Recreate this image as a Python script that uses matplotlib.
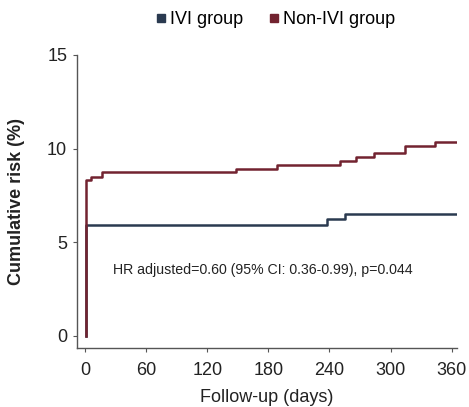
import matplotlib
matplotlib.use("Agg")
import matplotlib.pyplot as plt
from matplotlib.lines import Line2D

plt.rcParams['font.family'] = ['Liberation Sans', 'DejaVu Sans']

# Step data (days, cumulative risk %)
ivi_days = [1, 1, 238, 255, 365]
ivi_risk = [0.0, 5.9, 6.24, 6.5, 6.5]
nonivi_days = [1, 1, 6, 17, 148, 188, 250, 266, 284, 314, 344, 365]
nonivi_risk = [0.0, 8.3, 8.48, 8.75, 8.92, 9.12, 9.34, 9.53, 9.77, 10.14, 10.36, 10.36]

groups = ["IVI group", "Non-IVI group"]
colors = ["#2a3a50", "#722330"]
x_ticks = [0, 60, 120, 180, 240, 300, 360]
y_ticks = [0, 5, 10, 15]
annotation = "HR adjusted=0.60 (95% CI: 0.36-0.99), p=0.044"

fig = plt.figure(figsize=(4.69, 4.07), dpi=100)
ax = fig.add_axes([0.164, 0.145, 0.810, 0.720])

ax.step(ivi_days, ivi_risk, where="post", color=colors[0], lw=1.8)
ax.step(nonivi_days, nonivi_risk, where="post", color=colors[1], lw=1.8)

ax.set_xlim(-8, 365)
ax.set_ylim(-0.65, 15)
ax.set_xticks(x_ticks)
ax.set_yticks(y_ticks)
for s in ["top", "right"]:
    ax.spines[s].set_visible(False)
for s in ["left", "bottom"]:
    ax.spines[s].set_color("#555555")
    ax.spines[s].set_linewidth(1.0)
ax.spines["left"].set_bounds(-0.65, 15)
ax.tick_params(axis="both", colors="#555555", length=3, width=0.8, labelsize=13,
               labelcolor="#222222")
ax.tick_params(axis="x", pad=7)
ax.tick_params(axis="y", pad=4)

ax.set_xlabel("Follow-up (days)", fontsize=13, color="#222222", labelpad=7)
ax.set_ylabel("Cumulative risk (%)", fontsize=13, fontweight="bold", color="#222222", labelpad=16)

ax.text(27, 3.5, annotation, fontsize=10.2, color="#222222", va="center", ha="left")

handles = [Line2D([], [], marker="s", linestyle="none", color=c, markersize=6) for c in colors]
fig.legend(handles, groups, loc="upper center", bbox_to_anchor=(0.585, 1.0), ncol=2,
           frameon=False, fontsize=13, handletextpad=0.1, columnspacing=1.3,
           handlelength=0.8, borderaxespad=0.2)

fig.savefig("out.png", dpi=100)
